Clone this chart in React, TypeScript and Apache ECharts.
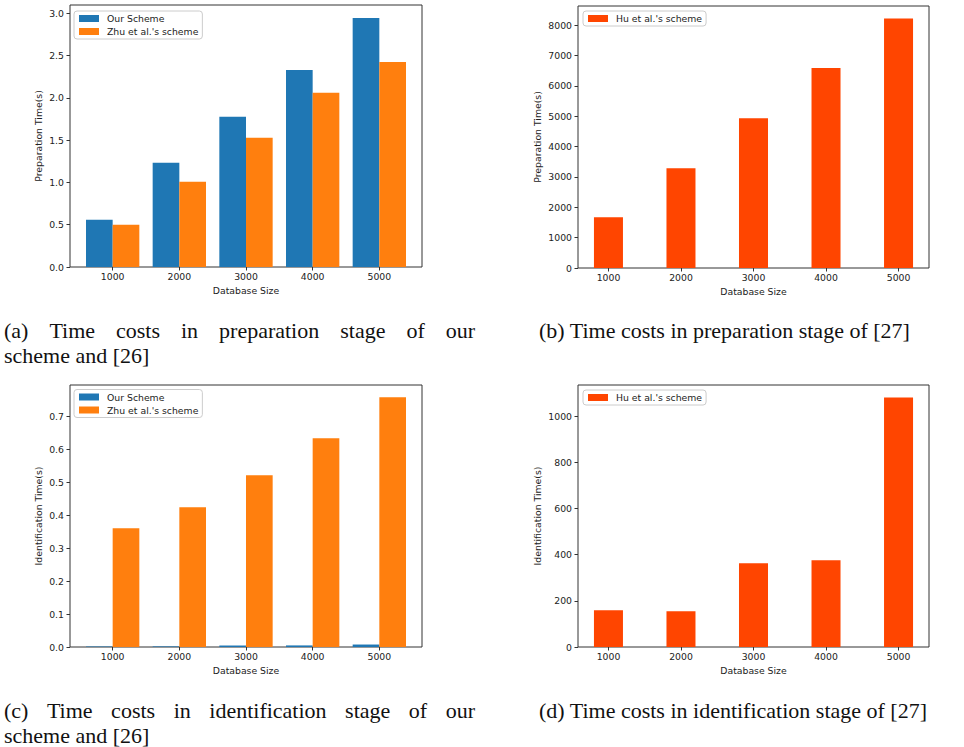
import React, { useEffect, useRef } from 'react';
import * as echarts from 'echarts';

// ---------- data ----------
const sizes = [1000, 2000, 3000, 4000, 5000];
const prepOurs = [0.56, 1.232, 1.775, 2.33, 2.945];
const prepZhu = [0.5, 1.008, 1.527, 2.059, 2.425];
const prepHu = [1670, 3290, 4935, 6585, 8220];
const identOurs = [0.0015, 0.0018, 0.0045, 0.0048, 0.0075];
const identZhu = [0.36, 0.424, 0.521, 0.633, 0.757];
const identHu = [159, 155, 363, 376, 1082];

const yTicksPrep = [0, 0.5, 1, 1.5, 2, 2.5, 3];
const yTicksPrepHu = [0, 1000, 2000, 3000, 4000, 5000, 6000, 7000, 8000];
const yTicksIdent = [0, 0.1, 0.2, 0.3, 0.4, 0.5, 0.6, 0.7];
const yTicksIdentHu = [0, 200, 400, 600, 800, 1000];

const nameOurs = 'Our Scheme';
const nameZhu = "Zhu et al.'s scheme";
const nameHu = "Hu et al.'s scheme";

const captionA1 = ['(a)', 'Time', 'costs', 'in', 'preparation', 'stage', 'of', 'our'];
const captionA2 = 'scheme and [26]';
const captionB = '(b) Time costs in preparation stage of [27]';
const captionC1 = ['(c)', 'Time', 'costs', 'in', 'identification', 'stage', 'of', 'our'];
const captionC2 = 'scheme and [26]';
const captionD = '(d) Time costs in identification stage of [27]';

// ---------- style ----------
const BLUE = '#1f77b4';
const ORANGE = '#ff7f0e';
const RED = '#ff4500';
const AX = '#333333';
const TXT = '#222222';
const SANS = 'DejaVu Sans';
const SERIF = 'Liberation Serif';
const FS = 9.3;
const CAP_FS = 22;

const grids = [
  { left: 70, top: 5, width: 352, height: 262 },
  { left: 578, top: 6, width: 351, height: 262 },
  { left: 70, top: 385, width: 352, height: 262 },
  { left: 578, top: 385, width: 351, height: 262 },
];

function xAxis(gridIndex: number, min: number, max: number) {
  return {
    type: 'value',
    gridIndex,
    min,
    max,
    name: 'Database Size',
    nameLocation: 'middle',
    nameGap: 19,
    nameTextStyle: { fontSize: FS, color: TXT, fontFamily: SANS },
    axisLine: { show: false },
    axisTick: { show: true, length: 3.5, lineStyle: { color: AX, width: 1 }, customValues: sizes },
    axisLabel: {
      margin: 5,
      fontSize: FS,
      color: TXT,
      fontFamily: SANS,
      customValues: sizes,
      formatter: (v: number) => String(v),
    },
    splitLine: { show: false },
  };
}

function yAxis(gridIndex: number, max: number, name: string, ticks: number[], digits: number, gap: number) {
  return {
    type: 'value',
    gridIndex,
    min: 0,
    max,
    name,
    nameLocation: 'middle',
    nameRotate: 90,
    nameGap: gap,
    nameTextStyle: { fontSize: FS, color: TXT, fontFamily: SANS },
    axisLine: { show: false },
    axisTick: { show: true, length: 3.5, lineStyle: { color: AX, width: 1 }, customValues: ticks },
    axisLabel: {
      margin: 6,
      fontSize: FS,
      color: TXT,
      fontFamily: SANS,
      customValues: ticks,
      formatter: (v: number) => v.toFixed(digits),
    },
    splitLine: { show: false },
  };
}

function bar(name: string, idx: number, values: number[], color: string) {
  return {
    type: 'bar',
    name,
    xAxisIndex: idx,
    yAxisIndex: idx,
    data: sizes.map((s, i) => [s, values[i]]),
    barWidth: '40%',
    barGap: '0%',
    itemStyle: { color },
  };
}

function legend(data: string[], left: number, top: number) {
  return {
    data,
    left,
    top,
    orient: 'vertical',
    icon: 'rect',
    itemWidth: 20,
    itemHeight: 7,
    itemGap: 4,
    padding: [3, 4, 3, 5],
    backgroundColor: 'rgba(255,255,255,0.85)',
    borderColor: '#cccccc',
    borderWidth: 1,
    borderRadius: 3,
    selectedMode: false,
    textStyle: { fontSize: FS, color: TXT, fontFamily: SANS, padding: [0, 0, 0, 3] },
  };
}

function captionText(text: string, x: number, y: number) {
  return {
    type: 'text',
    x,
    y,
    style: {
      text,
      fill: '#111111',
      fontSize: CAP_FS,
      fontFamily: SERIF,
      lineHeight: 20,
      align: 'left',
      verticalAlign: 'middle',
    },
  };
}

function justified(words: string[], x0: number, x1: number, y: number) {
  const ctx = document.createElement('canvas').getContext('2d') as CanvasRenderingContext2D;
  ctx.font = `${CAP_FS}px "${SERIF}"`;
  const widths = words.map((w) => ctx.measureText(w).width);
  const total = widths.reduce((a, b) => a + b, 0);
  const gap = (x1 - x0 - total) / (words.length - 1);
  const out: any[] = [];
  let x = x0;
  words.forEach((w, i) => {
    out.push(captionText(w, x, y));
    x += widths[i] + gap;
  });
  return out;
}

export default function App() {
  const ref = useRef<HTMLDivElement>(null);
  useEffect(() => {
    if (!ref.current) return;
    const chart = echarts.init(ref.current, undefined, { renderer: 'svg' });
    const option: any = {
      animation: false,
      backgroundColor: '#ffffff',
      grid: grids.map((g) => ({ ...g, show: true, borderColor: AX, borderWidth: 1, backgroundColor: 'transparent' })),
      xAxis: [xAxis(0, 360, 5640), xAxis(1, 580, 5420), xAxis(2, 360, 5640), xAxis(3, 580, 5420)],
      yAxis: [
        yAxis(0, 3.0975, 'Preparation Time(s)', yTicksPrep, 1, 27),
        yAxis(1, 8631, 'Preparation Time(s)', yTicksPrepHu, 0, 36),
        yAxis(2, 0.7945, 'Identification Time(s)', yTicksIdent, 1, 27),
        yAxis(3, 1136, 'Identification Time(s)', yTicksIdentHu, 0, 36),
      ],
      legend: [
        legend([nameOurs, nameZhu], 74, 11),
        legend([nameHu], 583, 11),
        legend([nameOurs, nameZhu], 74, 389.5),
        legend([nameHu], 583, 390),
      ],
      series: [
        bar(nameOurs, 0, prepOurs, BLUE),
        bar(nameZhu, 0, prepZhu, ORANGE),
        bar(nameHu, 1, prepHu, RED),
        bar(nameOurs, 2, identOurs, BLUE),
        bar(nameZhu, 2, identZhu, ORANGE),
        bar(nameHu, 3, identHu, RED),
      ],
      graphic: [
        ...justified(captionA1, 4, 475, 330),
        captionText(captionA2, 4, 355),
        captionText(captionB, 539, 330),
        ...justified(captionC1, 4, 475, 710),
        captionText(captionC2, 4, 735),
        captionText(captionD, 539, 710),
      ],
    };
    chart.setOption(option);
    return () => chart.dispose();
  }, []);
  return (
    <div
      ref={ref}
      style={{ position: 'absolute', left: 0, top: 0, width: 964, height: 747, background: '#fff' }}
    />
  );
}
